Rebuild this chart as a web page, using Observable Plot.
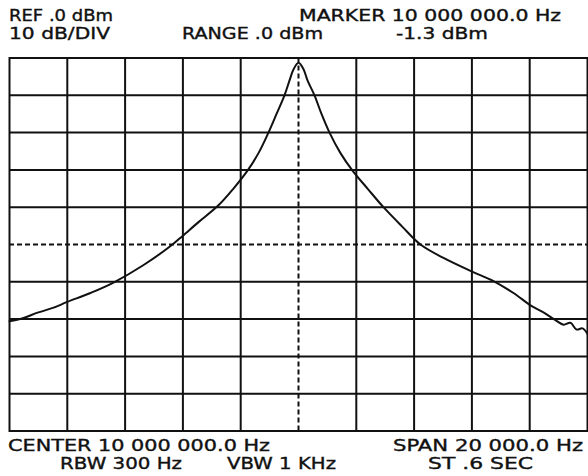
<!DOCTYPE html>
<html><head><meta charset="utf-8">
<script src="https://cdn.jsdelivr.net/npm/d3@7"></script>
<script src="https://cdn.jsdelivr.net/npm/@observablehq/plot@0.6"></script>
<style>
body{margin:0;background:#fff;}
#chart{position:relative;width:588px;height:476px;}
#chart svg{position:absolute;left:0;top:0;}
</style></head><body><div id="chart"></div>
<script>
// ---- data (offset from 10 MHz centre, Hz ; level, dBm) ----
const leftOffsetHz = [-10000,-9600,-9000,-8500,-8000,-7200,-6400,-5360,-4360,-4010,-3460,-2770,-2250,-1765,-1385,-1040,-760,-485,-310,-170,0];
const leftLevelDbm = [-70.6,-69.9,-68.2,-67.0,-65.4,-63.0,-60.2,-55.5,-50.0,-47.7,-44.0,-39.5,-35.0,-30.2,-25.5,-20.0,-15.0,-10.0,-6.0,-3.0,-1.3];
const rightOffsetHz = [173,311,554,796,1073,1453,1868,2388,2941,3564,4221,5017,5986,6747,7439,8028,8477,8893,9170,9412,9619,9827,10000];
const rightLevelDbm = [-3.0,-6.0,-10.0,-15.0,-20.0,-25.5,-30.2,-35.0,-40.0,-45.0,-50.0,-53.6,-57.2,-59.8,-63.0,-66.3,-68.2,-70.3,-71.5,-71.0,-72.8,-72.5,-74.0];
const solidLevels = [-10,-20,-30,-40,-60,-70,-80,-90];
const dashedLevels = [-50];
const solidFreqs = [-8000,-6000,-4000,-2000,2000,4000,6000,8000];
const markerFreqs = [0];
const headerTexts = ["REF .0 dBm","10 dB/DIV","RANGE .0 dBm","MARKER 10 000 000.0 Hz","-1.3 dBm"];
const footerTexts = ["CENTER 10 000 000.0 Hz","RBW 300 Hz","VBW 1 KHz","SPAN 20 000.0 Hz","ST .6 SEC"];

// ---- build trace table ----
const trace = leftOffsetHz.map((f,i)=>({f, db:leftLevelDbm[i]}))
  .concat(rightOffsetHz.map((f,i)=>({f, db:rightLevelDbm[i]})));

const plot = Plot.plot({
  width: 588, height: 476,
  marginTop: 57.5, marginBottom: 45.5, marginLeft: 9, marginRight: 1,
  x: {domain: [-10000, 10000], axis: null},
  y: {domain: [-100, 0], axis: null},
  style: {background: "white"},
  marks: [
    Plot.ruleY(solidLevels, {stroke: "#111", strokeWidth: 2}),
    Plot.ruleY(dashedLevels, {stroke: "#111", strokeWidth: 2, strokeDasharray: "5,3"}),
    Plot.ruleX(solidFreqs, {stroke: "#111", strokeWidth: 2}),
    Plot.ruleX(markerFreqs, {stroke: "#111", strokeWidth: 2, strokeDasharray: "5,3"}),
    Plot.frame({stroke: "#111", strokeWidth: 2}),
    Plot.line(trace, {x: "f", y: "db", stroke: "#111", strokeWidth: 2, curve: "catmull-rom"})
  ]
});
document.getElementById("chart").appendChild(plot);

// ---- header / footer labels (layout: x, baseline, width) ----
const headerLayout = [[9,21,104],[9,39,101],[182,39,141],[299,21,262],[396,39,92]];
const footerLayout = [[8,451,262],[60,469,122],[227,469,109],[393,451,190],[428,469,105]];
const ov = d3.select("#chart").append("svg").attr("width",588).attr("height",476)
  .style("pointer-events","none");
function addLabels(texts, layout){
  texts.forEach((t,i)=>{
    const [x,y,w] = layout[i];
    ov.append("text").attr("x",x).attr("y",y).attr("textLength",w)
      .attr("lengthAdjust","spacingAndGlyphs")
      .attr("font-family","DejaVu Sans").attr("font-size",15).attr("fill","#111")
      .attr("stroke","#111").attr("stroke-width",0.35)
      .text(t);
  });
}
addLabels(headerTexts, headerLayout);
addLabels(footerTexts, footerLayout);
</script></body></html>
